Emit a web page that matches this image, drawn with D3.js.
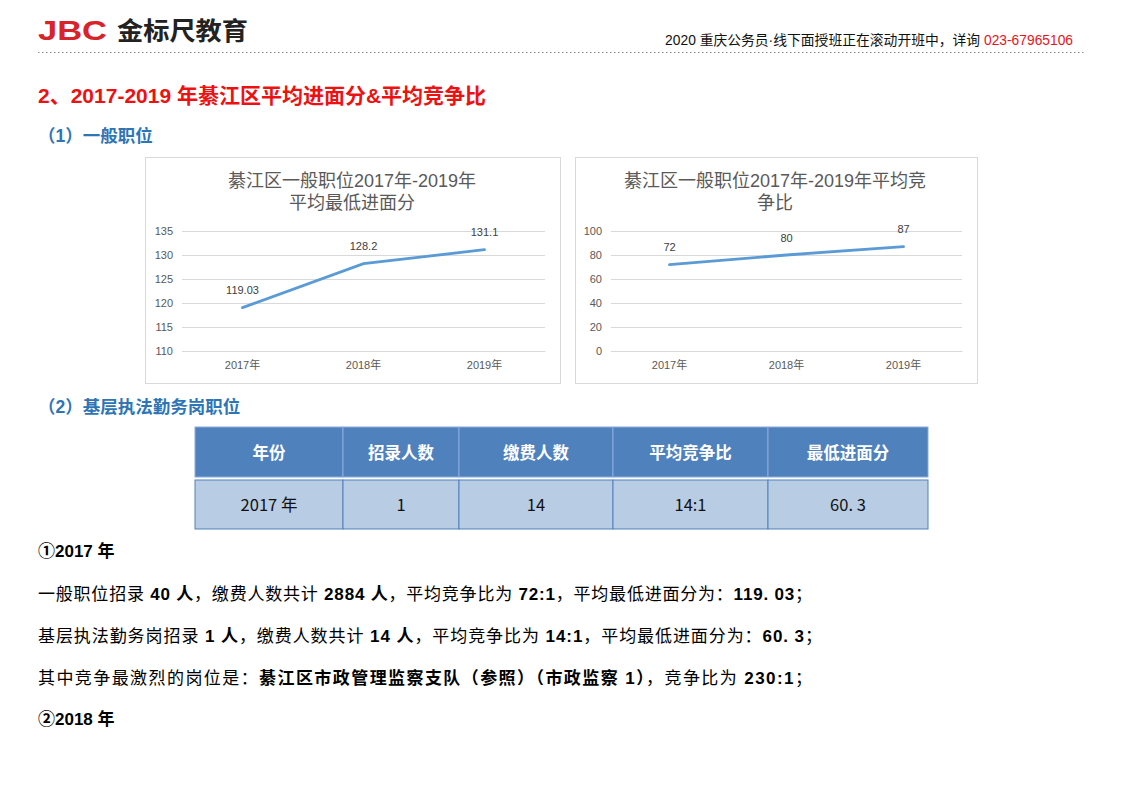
<!DOCTYPE html>
<html><head><meta charset="utf-8">
<script src="https://cdn.jsdelivr.net/npm/d3@7"></script>
<style>
html,body{margin:0;padding:0;background:#fff;}
svg{display:block;}
</style></head>
<body><svg id="page" width="1122" height="793"></svg>
<script>
// ---- data ----
const years = ["2017年", "2018年", "2019年"];
const scoreValues = [119.03, 128.2, 131.1];
const scoreTicks = [110, 115, 120, 125, 130, 135];
const ratioValues = [72, 80, 87];
const ratioTicks = [0, 20, 40, 60, 80, 100];
const chart1Title = ["綦江区一般职位2017年-2019年", "平均最低进面分"];
const chart2Title = ["綦江区一般职位2017年-2019年平均竞", "争比"];
const tableHeader = ["年份", "招录人数", "缴费人数", "平均竞争比", "最低进面分"];
const tableRow = ["2017 年", "1", "14", "14:1", "60. 3"];

const FONT = "'Liberation Sans', 'Noto Sans CJK SC', sans-serif";
const CJK = "'Noto Sans CJK SC', 'Liberation Sans', sans-serif";
const svg = d3.select("#page");
svg.append("rect").attr("width", 1122).attr("height", 793).attr("fill", "#fff");

// ---- header ----
svg.append("text").attr("x", 38).attr("y", 40).attr("font-family", "'Liberation Sans', sans-serif")
  .attr("font-weight", "bold").attr("font-size", 27).attr("fill", "#d7232a")
  .attr("textLength", 69).attr("lengthAdjust", "spacingAndGlyphs").text("JBC");
svg.append("text").attr("x", 117).attr("y", 40).attr("font-family", CJK)
  .attr("font-weight", "bold").attr("font-size", 25).attr("fill", "#222")
  .attr("textLength", 131).attr("lengthAdjust", "spacingAndGlyphs").text("金标尺教育");
const hdr = svg.append("text").attr("x", 1073).attr("y", 45).attr("text-anchor", "end")
  .attr("font-family", FONT).attr("font-size", 13.8).attr("fill", "#111");
hdr.append("tspan").text("2020 重庆公务员·线下面授班正在滚动开班中，详询 ");
hdr.append("tspan").attr("fill", "#e8141b").text("023-67965106");
svg.append("line").attr("x1", 38).attr("x2", 1085).attr("y1", 52.5).attr("y2", 52.5)
  .attr("stroke", "#888").attr("stroke-width", 1).attr("stroke-dasharray", "1.5,2.5");

// ---- headings ----
svg.append("text").attr("x", 38).attr("y", 103).attr("font-family", FONT)
  .attr("font-weight", "bold").attr("font-size", 21).attr("fill", "#ee1111")
  .text("2、2017-2019 年綦江区平均进面分&平均竞争比");
svg.append("text").attr("x", 38).attr("y", 142).attr("font-family", FONT)
  .attr("font-weight", "bold").attr("font-size", 17.5).attr("fill", "#2e75b6")
  .text("（1）一般职位");
svg.append("text").attr("x", 38).attr("y", 413).attr("font-family", FONT)
  .attr("font-weight", "bold").attr("font-size", 17.5).attr("fill", "#2e75b6")
  .text("（2）基层执法勤务岗职位");

// ---- line charts ----
function lineChart(cfg) {
  const g = svg.append("g");
  g.append("rect").attr("x", cfg.box[0] + 0.5).attr("y", cfg.box[1] + 0.5)
    .attr("width", cfg.box[2]).attr("height", cfg.box[3])
    .attr("fill", "#fff").attr("stroke", "#d9d9d9");
  const tt = g.append("text").attr("text-anchor", "middle")
    .attr("font-family", FONT).attr("font-size", 18).attr("fill", "#595959");
  cfg.title.forEach((t, i) => {
    tt.append("tspan").attr("x", cfg.titleX).attr("y", 187 + i * 22).text(t);
  });
  const x = d3.scaleBand().domain(years).range(cfg.xr);
  const y = d3.scaleLinear().domain(cfg.domain).range([351, 231]);
  const yAxis = g.append("g").attr("transform", `translate(${cfg.xr[0]},0)`)
    .call(d3.axisLeft(y).tickValues(cfg.ticks).tickSize(-(cfg.xr[1] - cfg.xr[0])).tickPadding(9));
  yAxis.select(".domain").remove();
  yAxis.selectAll(".tick line").attr("stroke", "#d9d9d9");
  yAxis.selectAll(".tick text").attr("font-family", FONT).attr("font-size", 11).attr("fill", "#595959");
  const xAxis = g.append("g").attr("transform", "translate(0,351)")
    .call(d3.axisBottom(x).tickSize(0).tickPadding(10));
  xAxis.select(".domain").attr("stroke", "#d9d9d9");
  xAxis.selectAll(".tick text").attr("font-family", FONT).attr("font-size", 11).attr("fill", "#595959");
  const line = d3.line().x((d, i) => x(years[i]) + x.bandwidth() / 2).y(d => y(d));
  g.append("path").datum(cfg.values).attr("d", line).attr("fill", "none")
    .attr("stroke", "#5b9bd5").attr("stroke-width", 2.8).attr("stroke-linecap", "round");
  g.selectAll(".lbl").data(cfg.values).enter().append("text")
    .attr("x", (d, i) => x(years[i]) + x.bandwidth() / 2)
    .attr("y", d => y(d) - 13.5).attr("text-anchor", "middle")
    .attr("font-family", FONT).attr("font-size", 11).attr("fill", "#404040").text(d => d);
}
lineChart({box: [145, 157, 415, 226], title: chart1Title, titleX: 352, xr: [182, 545],
  domain: [110, 135], ticks: scoreTicks, values: scoreValues});
lineChart({box: [575, 157, 402, 226], title: chart2Title, titleX: 775, xr: [611, 962],
  domain: [0, 100], ticks: ratioTicks, values: ratioValues});

// ---- table ----
const colEdges = [195, 343, 459, 613, 768, 928];
const tg = svg.append("g");
tg.selectAll(".hc").data(tableHeader).enter().append("rect")
  .attr("x", (d, i) => colEdges[i]).attr("y", 427)
  .attr("width", (d, i) => colEdges[i + 1] - colEdges[i]).attr("height", 50)
  .attr("fill", "#4f81bd").attr("stroke", "#8eaadb").attr("stroke-width", 1);
tg.selectAll(".dc").data(tableRow).enter().append("rect")
  .attr("x", (d, i) => colEdges[i]).attr("y", 480)
  .attr("width", (d, i) => colEdges[i + 1] - colEdges[i]).attr("height", 49)
  .attr("fill", "#b8cce4").attr("stroke", "#4f81bd").attr("stroke-width", 1);
tg.selectAll(".ht").data(tableHeader).enter().append("text")
  .attr("x", (d, i) => (colEdges[i] + colEdges[i + 1]) / 2).attr("y", 459)
  .attr("text-anchor", "middle").attr("font-family", CJK).attr("font-weight", "bold")
  .attr("font-size", 16.5).attr("fill", "#fff").text(d => d);
tg.selectAll(".dt").data(tableRow).enter().append("text")
  .attr("x", (d, i) => (colEdges[i] + colEdges[i + 1]) / 2).attr("y", 511)
  .attr("text-anchor", "middle").attr("font-family", "'Liberation Sans Narrow', 'Noto Sans CJK SC', sans-serif")
  .attr("font-size", 16.5).attr("fill", "#111").text(d => d);

// ---- body text ----
const paras = [
  {y: 557, parts: [["①2017 年", true]]},
  {y: 600, len: 774, parts: [["一般职位招录 ", false], ["40 人", true], ["，缴费人数共计 ", false], ["2884 人", true],
    ["，平均竞争比为 ", false], ["72:1", true], ["，平均最低进面分为：", false], ["119. 03", true], ["；", false]]},
  {y: 642, len: 784, parts: [["基层执法勤务岗招录 ", false], ["1 人", true], ["，缴费人数共计 ", false], ["14 人", true],
    ["，平均竞争比为 ", false], ["14:1", true], ["，平均最低进面分为：", false], ["60. 3", true], ["；", false]]},
  {y: 684, len: 774, parts: [["其中竞争最激烈的岗位是：", false], ["綦江区市政管理监察支队（参照）（市政监察 1）", true],
    ["，竞争比为 ", false], ["230:1", true], ["；", false]]},
  {y: 725, parts: [["②2018 年", true]]}
];
paras.forEach(p => {
  const t = svg.append("text").attr("x", 38).attr("y", p.y).attr("font-family", FONT)
    .attr("font-size", 17).attr("fill", "#000");
  if (p.len) t.attr("textLength", p.len).attr("lengthAdjust", "spacing");
  p.parts.forEach(([s, b]) => t.append("tspan").attr("font-weight", b ? "bold" : "normal").text(s));
});
</script></body></html>
